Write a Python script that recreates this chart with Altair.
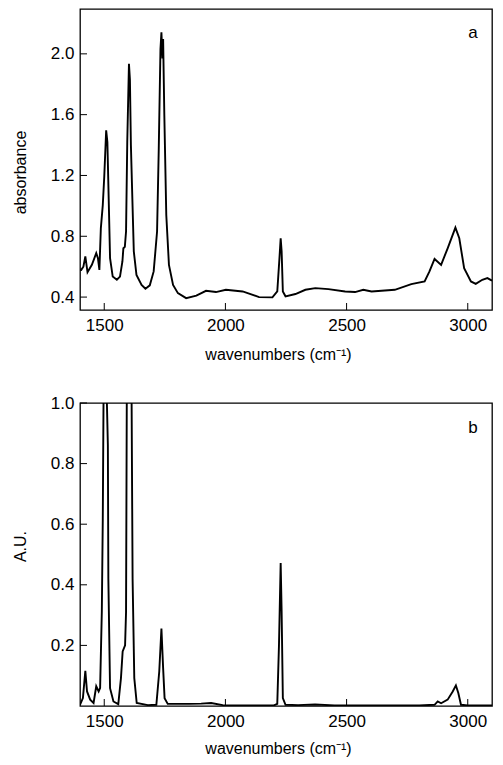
import altair as alt
import pandas as pd

# ---- data ----
wn_a = [1400, 1405, 1414, 1422, 1431, 1449, 1467, 1474, 1480, 1486,
        1494, 1500, 1508, 1513, 1519, 1524, 1535, 1552, 1565, 1575,
        1579, 1585, 1590, 1595, 1602, 1606, 1610, 1616, 1622, 1633,
        1654, 1670, 1688, 1704, 1718, 1725, 1732, 1736, 1740, 1743,
        1748, 1756, 1767, 1784, 1804, 1838, 1880, 1920, 1961, 2002,
        2071, 2139, 2194, 2214, 2223, 2228, 2232, 2237, 2248, 2289,
        2330, 2371, 2425, 2494, 2535, 2569, 2603, 2699, 2767, 2822,
        2842, 2863, 2890, 2917, 2949, 2965, 2985, 3013, 3033, 3060,
        3081, 3100]
abs_a = [0.58, 0.579, 0.6, 0.667, 0.564, 0.612, 0.689, 0.656, 0.579, 0.852,
         1.005, 1.19, 1.497, 1.42, 1.005, 0.656, 0.535, 0.514, 0.535, 0.634,
         0.721, 0.73, 0.831, 1.42, 1.934, 1.83, 1.4, 1.049, 0.70, 0.546,
         0.48, 0.455, 0.477, 0.569, 0.831, 1.377, 2.03, 2.142, 1.97, 2.098,
         1.595, 0.94, 0.612, 0.48, 0.426, 0.393, 0.41, 0.441, 0.433, 0.448,
         0.437, 0.40, 0.398, 0.437, 0.656, 0.787, 0.70, 0.437, 0.405, 0.42,
         0.448, 0.459, 0.452, 0.437, 0.433, 0.448, 0.437, 0.448, 0.485, 0.503,
         0.569, 0.651, 0.612, 0.721, 0.857, 0.787, 0.59, 0.503, 0.487, 0.514,
         0.525, 0.508]

wn_b = [1400, 1412, 1422, 1429, 1442, 1456, 1467, 1477, 1483, 1490,
        1494, 1497, 1505, 1511, 1515, 1517, 1524, 1538, 1558, 1569,
        1576, 1586, 1590, 1593, 1603, 1613, 1617, 1624, 1634, 1680,
        1715, 1727, 1736, 1743, 1749, 1762, 1850, 1900, 1941, 1989,
        2100, 2200, 2214, 2221, 2228, 2232, 2237, 2248, 2300, 2370,
        2450, 2600, 2800, 2863, 2876, 2890, 2917, 2938, 2951, 2961,
        2972, 3000, 3100]
au_b = [0.004, 0.026, 0.116, 0.048, 0.021, 0.01, 0.065, 0.048, 0.059, 0.31,
        0.617, 1.0, 1.4, 1.0, 0.86, 0.42, 0.059, 0.015, 0.006, 0.092,
        0.18, 0.2, 0.31, 1.0, 2.2, 1.0, 0.42, 0.092, 0.01, 0.003,
        0.004, 0.114, 0.256, 0.125, 0.026, 0.007, 0.007, 0.008, 0.01, 0.003,
        0.002, 0.002, 0.007, 0.2, 0.472, 0.31, 0.026, 0.004, 0.003, 0.005,
        0.002, 0.002, 0.002, 0.004, 0.015, 0.009, 0.021, 0.048, 0.068, 0.043,
        0.004, 0.002, 0.002]

x_ticks = [1500, 2000, 2500, 3000]
y_ticks_a = [0.4, 0.8, 1.2, 1.6, 2.0]
y_ticks_b = [0.2, 0.4, 0.6, 0.8, 1.0]
x_title = "wavenumbers (cm\u207b\u00b9)"
panel_labels = ["a", "b"]

FONT = "Liberation Sans"
W = 412
TICK = 7


def panel(wn, vals, ydom, yticks, height, ytitle, ytitleY, label, labelY, xtitleY):
    df = pd.DataFrame({"wn": wn, "v": vals})
    xs = alt.Scale(domain=[1400, 3100], nice=False, zero=False)
    ys = alt.Scale(domain=ydom, nice=False, zero=False)
    xaxis = alt.Axis(values=x_ticks, format="d", ticks=False, domain=False,
                     grid=False, labelPadding=7, orient="bottom",
                     title=x_title, titleX=W / 2 - 8, titleY=xtitleY,
                     titleBaseline="alphabetic")
    yaxis = alt.Axis(values=yticks, format=".1f", ticks=False, domain=False,
                     grid=False, labelPadding=6, orient="left",
                     title=ytitle, titleX=-55, titleY=ytitleY,
                     titleAngle=270, titleBaseline="alphabetic")
    line = alt.Chart(df).mark_line(color="black", strokeWidth=1.9, clip=True).encode(
        x=alt.X("wn:Q", scale=xs, axis=xaxis),
        y=alt.Y("v:Q", scale=ys, axis=yaxis),
    )
    # inward ticks, drawn at the axis tick values through the shared scales
    xt = alt.Chart(pd.DataFrame({"wn": x_ticks})).mark_rule(
        color="black", strokeWidth=1).encode(
        x=alt.X("wn:Q", scale=xs, axis=xaxis),
        y=alt.value(height), y2=alt.value(height - TICK))
    yt = alt.Chart(pd.DataFrame({"v": yticks})).mark_rule(
        color="black", strokeWidth=1).encode(
        y=alt.Y("v:Q", scale=ys, axis=yaxis),
        x=alt.value(0), x2=alt.value(TICK))
    txt = alt.Chart(pd.DataFrame({"t": [label]})).mark_text(
        font=FONT, fontSize=17, color="black", align="center", baseline="alphabetic"
    ).encode(text="t:N", x=alt.value(W - 19), y=alt.value(labelY))
    return alt.layer(line, xt, yt, txt).properties(width=W, height=height)


top = panel(wn_a, abs_a, [0.315, 2.295], y_ticks_a, 301, "absorbance", 163,
            panel_labels[0], 29, 49)
bottom = panel(wn_b, au_b, [0, 1.0], y_ticks_b, 303, "A.U.", 143,
               panel_labels[1], 30, 47)

chart = alt.vconcat(top, bottom, spacing=30).properties(
    padding={"left": 3, "top": 0, "right": 0, "bottom": 0}
).configure_view(
    stroke="black", strokeWidth=1.3
).configure_axis(
    labelFont=FONT, titleFont=FONT, labelFontSize=17, titleFontSize=16,
    labelColor="black", titleColor="black",
    titleFontWeight="normal"
)

chart.save("out.html", embed_options={"renderer": "svg", "actions": False})
